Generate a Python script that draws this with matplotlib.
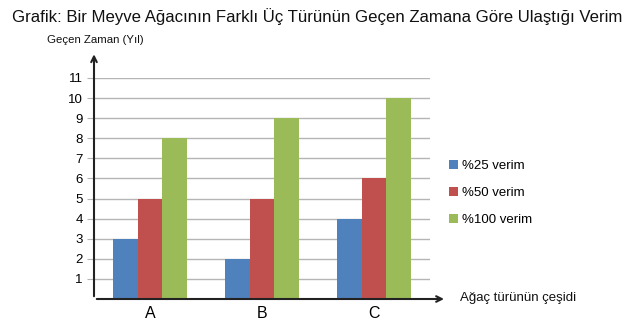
import matplotlib
matplotlib.use("Agg")
import matplotlib.pyplot as plt
import numpy as np

plt.rcParams['font.family'] = ['Liberation Sans', 'DejaVu Sans']

categories = ['A', 'B', 'C']
series_names = ['%25 verim', '%50 verim', '%100 verim']
v25 = [3, 2, 4]
v50 = [5, 5, 6]
v100 = [8, 9, 10]
yticks = list(range(1, 12))
colors = ['#4F81BD', '#C0504D', '#9BBB59']

fig = plt.figure(figsize=(6.3, 3.32), dpi=100)
ax = fig.add_axes([94/630, 1-299/332, (430-94)/630, (299-78)/332])

x = np.arange(len(categories))
w = 0.22
for i, (vals, c, name) in enumerate(zip([v25, v50, v100], colors, series_names)):
    ax.bar(x + (i-1)*w, vals, width=w, color=c, label=name, zorder=3)

ax.set_xlim(-0.5, 2.5)
ax.set_ylim(0, 11)
ax.set_yticks(yticks)
ax.set_yticklabels([str(t) for t in yticks], fontsize=9.5)
ax.yaxis.grid(True, color='#b5b5b5', linewidth=1.0, zorder=0)
ax.set_xticks(x)
ax.set_xticklabels(categories, fontsize=11.5)
ax.tick_params(axis='x', length=0, pad=5)
ax.tick_params(axis='y', length=5, color='#b5b5b5', pad=3)
for s in ['top', 'right', 'left', 'bottom']:
    ax.spines[s].set_visible(False)

# axis arrows
ax.annotate('', xy=(0, 1.12), xytext=(0, 0), xycoords='axes fraction',
            arrowprops=dict(arrowstyle='->', color='#222222', lw=1.5), annotation_clip=False)
ax.annotate('', xy=(1.05, 0), xytext=(0, 0), xycoords='axes fraction',
            arrowprops=dict(arrowstyle='->', color='#222222', lw=1.5), annotation_clip=False)

fig.text(12/630, 1-17/332, 'Grafik: Bir Meyve Ağacının Farklı Üç Türünün Geçen Zamana Göre Ulaştığı Verim',
         fontsize=12.1, va='center', ha='left', color='#111111')
fig.text(47/630, 1-40/332, 'Geçen Zaman (Yıl)', fontsize=8.2, va='center', ha='left', color='#111111')
fig.text(460/630, 1-298/332, 'Ağaç türünün çeşidi', fontsize=9.5, va='center', ha='left', color='#111111')

leg = ax.legend(loc='upper left', bbox_to_anchor=(449/630, 1-160/332), bbox_transform=fig.transFigure,
                frameon=False, fontsize=9.5, handlelength=0.7, handleheight=0.7, handletextpad=0.3,
                labelspacing=1.1, borderaxespad=0, borderpad=0)

fig.savefig('out.png', dpi=100)
